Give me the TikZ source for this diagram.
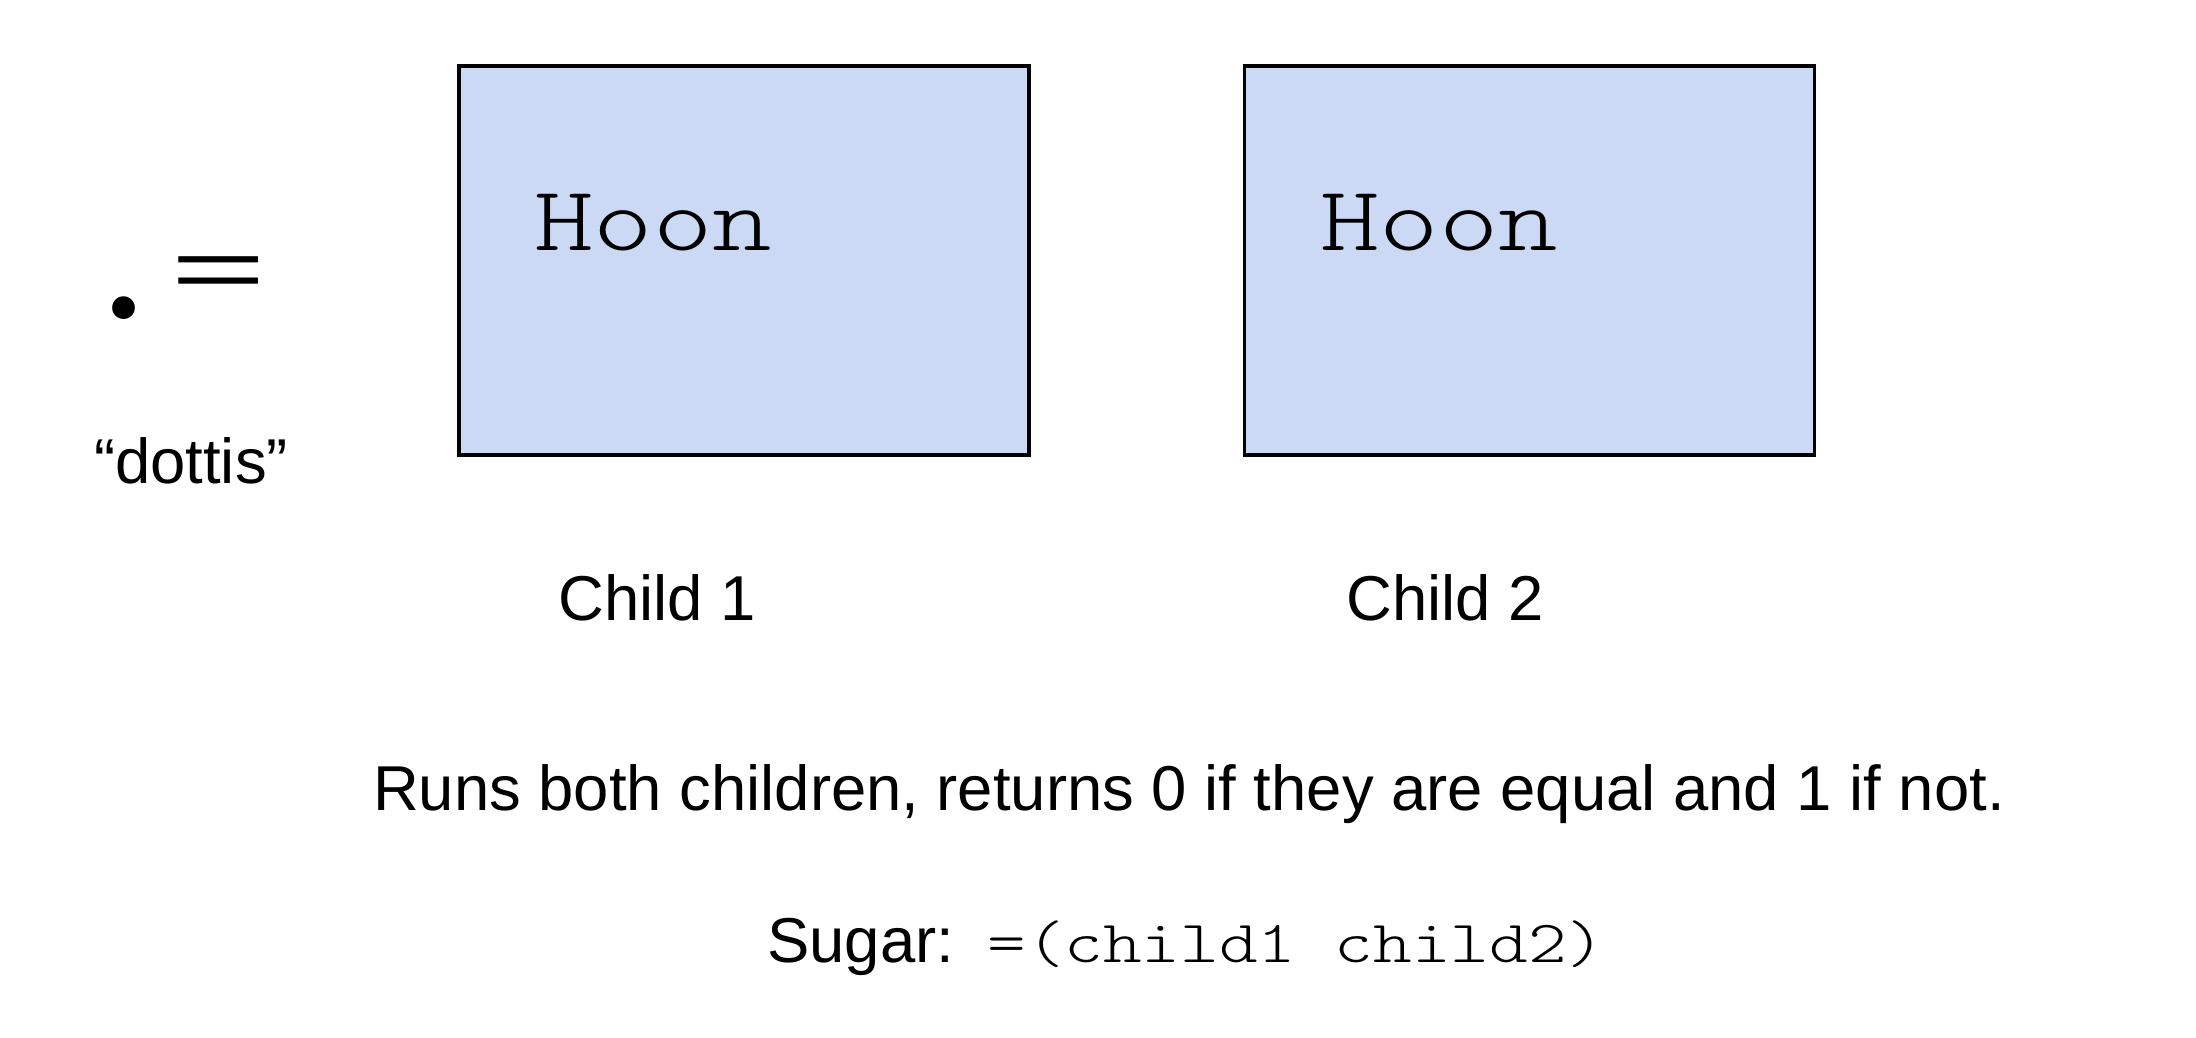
\documentclass[tikz,border=0pt]{standalone}
\usepackage{fontspec}
\setmainfont{Liberation Sans}
\newfontfamily\runefont{Liberation Serif}
\newfontfamily\eqfont{Liberation Mono}
\newfontfamily\hoonfont[Extension=.otf, UprightFont=*-regular, FakeStretch=1.23]{lmmonolt10}
\usepackage{xcolor}
\usetikzlibrary{positioning}
\definecolor{boxblue}{RGB}{203,217,245}

\begin{document}
\begin{tikzpicture}[
        x=0.5pt, y=-0.5pt,
        hoon_box/.style={draw=black, fill=boxblue, line width=1.6pt, minimum width=285pt, minimum height=194.5pt, inner sep=0pt},
        hoon_text/.style={font=\hoonfont\fontsize{46}{56}\selectfont, inner sep=0pt, anchor=base west},
        label_style/.style={font=\fontsize{31.7}{38}\selectfont, inner sep=0pt, anchor=base},
        code_style/.style={font=\hoonfont\fontsize{29.9}{36}\selectfont, inner sep=0pt, anchor=base west}
    ]
        \useasboundingbox (0,0) rectangle (2196,1038);

        % Rune and its name
        \node[font=\runefont\bfseries\fontsize{70}{80}\selectfont, inner sep=0pt, anchor=base] (dot) at (124,317) {.};
        \node[font=\eqfont\fontsize{82}{96}\selectfont, inner sep=0pt, anchor=base] (eq) at (219,298) {\scalebox{1}[0.52]{=}};
        \node[label_style] (name) at (191,483) {“dottis”};

        % Children
        \node[hoon_box] (box1) at (744,260.5) {};
        \node[hoon_box] (box2) at (1529.5,260.5) {};
        \node[hoon_text] (hoon1) at (534,250) {Hoon};
        \node[hoon_text] (hoon2) at (1320,250) {Hoon};
        \node[label_style] (child1) at (657,620) {Child 1};
        \node[label_style] (child2) at (1445,620) {Child 2};

        % Description
        \node[label_style] (desc) at (1189,810) {Runs both children, returns 0 if they are equal and 1 if not.};
        \node[label_style, anchor=base west] (sugar) at (767,962) {Sugar:};
        \node[code_style] (code) at (987,962) {=(child1 child2)};
    \end{tikzpicture}
\end{document}
